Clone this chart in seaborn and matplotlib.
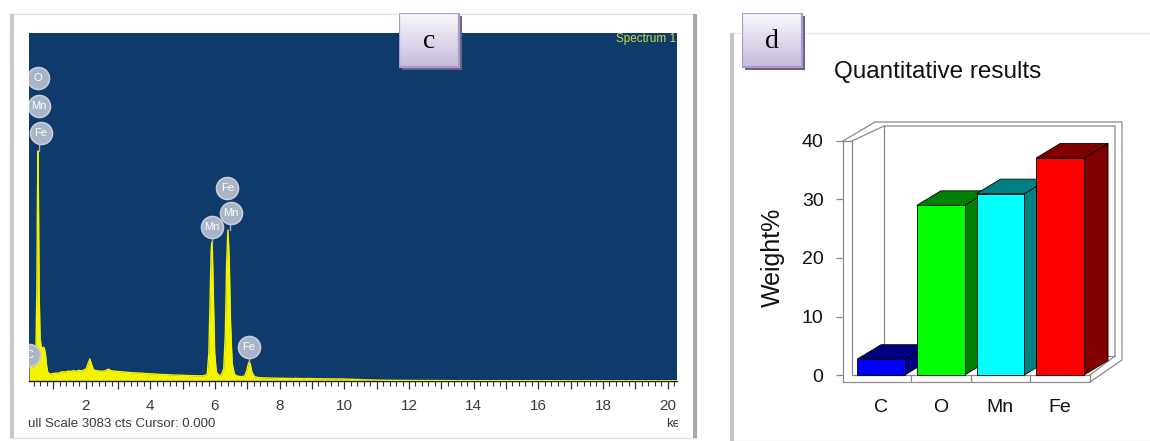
import numpy as np
import pandas as pd
import matplotlib
matplotlib.use("Agg")
import matplotlib.pyplot as plt
import seaborn as sns
from matplotlib import font_manager
from matplotlib.patches import Rectangle, Polygon
from matplotlib.lines import Line2D
from matplotlib.transforms import Bbox, TransformedBbox
from matplotlib.ticker import MultipleLocator, FuncFormatter

# ---------------- data ----------------
# EDS spectrum: energy (keV) and counts
energy_kev = [0.25, 0.28, 0.31, 0.36, 0.42, 0.46, 0.49, 0.51, 0.525, 0.54, 0.56, 0.59,
              0.63, 0.67, 0.70, 0.73, 0.76, 0.79, 0.82, 0.86, 0.92, 1.00, 1.08, 1.15,
              1.22, 1.30, 1.38, 1.46, 1.54, 1.62, 1.70, 1.78, 1.86, 1.94, 2.02, 2.08,
              2.13, 2.18, 2.24, 2.32, 2.42, 2.52, 2.62, 2.70, 2.78, 2.88, 2.98, 3.10,
              3.25, 3.40, 3.55, 3.70, 3.85, 4.00, 4.15, 4.30, 4.45, 4.60, 4.75, 4.90,
              5.05, 5.20, 5.35, 5.50, 5.65, 5.76, 5.81, 5.85, 5.88, 5.90, 5.92, 5.95,
              5.99, 6.04, 6.12, 6.20, 6.27, 6.32, 6.36, 6.40, 6.44, 6.48, 6.53, 6.60,
              6.70, 6.82, 6.92, 6.98, 7.03, 7.06, 7.09, 7.14, 7.22, 7.35, 7.50, 7.70,
              7.90, 8.10, 8.30, 8.50, 8.70, 8.90, 9.10, 9.40, 9.70, 10.00, 10.30, 10.70,
              11.20, 12.00, 13.00, 14.00, 16.00, 18.00, 20.29]
counts = [150, 175, 150, 120, 140, 260, 800, 1650, 2038, 1600, 800, 380,
          300, 290, 300, 280, 230, 140, 85, 66, 62, 66, 70, 68,
          78, 82, 80, 88, 85, 92, 86, 94, 90, 96, 110, 160,
          195, 150, 100, 92, 88, 86, 92, 105, 92, 88, 84, 82,
          78, 74, 72, 70, 66, 64, 62, 58, 57, 55, 52, 52,
          50, 48, 47, 46, 46, 60, 250, 750, 1150, 1231, 1150, 750,
          250, 80, 50, 55, 110, 420, 1050, 1338, 1080, 520, 160, 60,
          42, 38, 45, 90, 150, 170, 150, 80, 38, 30, 28, 26,
          25, 24, 22, 23, 21, 22, 20, 19, 18, 18, 14, 10,
          7, 5, 4, 3, 3, 2, 2]
full_scale_cts = 3083

# peak identification markers
peak_labels = ["C", "O", "Mn", "Fe", "Mn", "Mn", "Fe", "Fe"]
peak_label_kev = [0.25, 0.53, 0.56, 0.61, 5.90, 6.49, 6.38, 7.05]
peak_label_cts = [230, 2684, 2436, 2197, 1364, 1488, 1710, 301]
# connector lines from marker down to the peak top
connector_kev = [0.55, 5.90, 6.45, 7.06]
connector_top = [2110, 1280, 1400, 215]
connector_bottom = [2038, 1231, 1338, 170]

# quantitative results
elements = ["C", "O", "Mn", "Fe"]
weight_pct = [2.7, 29.0, 31.0, 37.1]
front_colors = ["#0000ff", "#00ff00", "#00ffff", "#ff0000"]
side_colors = ["#000080", "#008000", "#008080", "#800000"]
yticks_pct = [0, 10, 20, 30, 40]

# ---------------- style ----------------
sns.set_style("white")
names = {f.name for f in font_manager.fontManager.ttflist}
NARROW = "Liberation Sans Narrow" if "Liberation Sans Narrow" in names else "Liberation Sans"
SANS = "Liberation Sans"
SERIF = "Liberation Serif"
plt.rcParams["font.family"] = [SANS, "DejaVu Sans"]

W, H = 1150, 441
fig = plt.figure(figsize=(W / 100, H / 100), dpi=100)
fig.patch.set_facecolor("white")


def fx(px):
    return px / W


def fy(py):
    return 1 - py / H


# ---------------- panel frames ----------------
fig.patches.append(Rectangle((fx(10), fy(438)), fx(686), (438 - 14) / H, transform=fig.transFigure,
                             facecolor="white", edgecolor="#e2e2e2", lw=1.0, zorder=-5))
fig.patches.append(Rectangle((fx(10), fy(438)), fx(4), (438 - 14) / H, transform=fig.transFigure,
                             facecolor="#c9c9c9", edgecolor="none", zorder=-4))
fig.patches.append(Rectangle((fx(693), fy(438)), fx(4), (438 - 14) / H, transform=fig.transFigure,
                             facecolor="#a9a9a9", edgecolor="none", zorder=-4))
fig.patches.append(Rectangle((fx(730), 0), fx(430), (441 - 33) / H, transform=fig.transFigure,
                             facecolor="white", edgecolor="#e6e6e6", lw=1.0, zorder=-5))
fig.patches.append(Rectangle((fx(730), 0), fx(4), (441 - 33) / H, transform=fig.transFigure,
                             facecolor="#c4c4c4", edgecolor="none", zorder=-4))

# ---------------- EDS spectrum ----------------
ax1 = fig.add_axes([fx(29), fy(381), fx(648), 348 / H], zorder=1)
ax1.set_facecolor("#0e3a6c")
yellow = "#f4f400"
ax1.fill_between(energy_kev, counts, 0, color=yellow, lw=0, zorder=2)
sns.lineplot(x=energy_kev, y=counts, ax=ax1, color=yellow, lw=1.0, zorder=3, estimator=None)
ax1.set_xlim(0.247, 20.29)
ax1.set_ylim(0, full_scale_cts)
for s in ["top", "left", "right"]:
    ax1.spines[s].set_visible(False)
ax1.spines["bottom"].set_color("#1a1a1a")
ax1.spines["bottom"].set_linewidth(1.0)
ax1.yaxis.set_visible(False)
ax1.xaxis.set_major_locator(MultipleLocator(1))
ax1.xaxis.set_minor_locator(MultipleLocator(0.2))
ax1.xaxis.set_major_formatter(FuncFormatter(lambda v, p: f"{int(round(v))}" if round(v) % 2 == 0 and v > 0.5 else ""))
ax1.tick_params(axis="x", which="major", length=6, width=0.9, color="#333333", pad=7,
                labelsize=11, labelcolor="#3a3a3a", bottom=True)
ax1.tick_params(axis="x", which="minor", length=3.5, width=0.8, color="#333333", bottom=True)
for lab in ax1.get_xticklabels():
    lab.set_family([NARROW, "DejaVu Sans"])
ax1.set_xlabel("")

# connectors and element markers
for k, t, b in zip(connector_kev, connector_top, connector_bottom):
    ax1.plot([k, k], [b, t], color="#9fb0c8", lw=1.0, zorder=4)
ax1.scatter(peak_label_kev, peak_label_cts, s=250, color="#a9b4c6", edgecolor="#c6cdd9",
            lw=1.2, zorder=5, clip_on=True)
for lab, k, c in zip(peak_labels, peak_label_kev, peak_label_cts):
    ax1.text(k, c, lab, ha="center", va="center", color="white", fontsize=8,
             family=[NARROW, "DejaVu Sans"], zorder=6, clip_on=True)

ax1.text(0.999, 1.0, "Spectrum 1", transform=ax1.transAxes, ha="right", va="top",
         color="#c8dc3c", fontsize=8.5, family=[NARROW, "DejaVu Sans"], zorder=6, clip_on=True)

# status line under the spectrum (cut by the window edge)
clip_box = TransformedBbox(Bbox.from_extents(fx(28), fy(428), fx(678), fy(410)), fig.transFigure)
t1 = fig.text(fx(28), fy(418), "ull Scale 3083 cts Cursor: 0.000", ha="left", va="top",
              fontsize=9.5, color="#3a3a3a", family=[NARROW, "DejaVu Sans"])
t1.set_clip_box(clip_box)
t1.set_clip_on(True)
t2 = fig.text(fx(666), fy(418), "keV", ha="left", va="top",
              fontsize=9.5, color="#3a3a3a", family=[NARROW, "DejaVu Sans"])
t2.set_clip_box(clip_box)
t2.set_clip_on(True)


# ---------------- panel label boxes ----------------
def label_box(x0, y0, w, h, letter):
    bx = fig.add_axes([fx(x0), fy(y0 + h + 4), fx(w + 4), (h + 4) / H], zorder=10)
    bx.axis("off")
    bx.add_patch(Rectangle((3, 3), w, h, facecolor="#6c5e8c", edgecolor="none", zorder=1))
    grad = np.linspace(0, 1, 64).reshape(-1, 1)
    cmap = matplotlib.colors.LinearSegmentedColormap.from_list("lav", ["#faf9fc", "#c6bbdc"])
    bx.imshow(grad, cmap=cmap, extent=(0, w, h, 0), aspect="auto", zorder=2)
    bx.add_patch(Rectangle((0, 0), w, h, facecolor="none", edgecolor="#ab9bc9", lw=1.6, zorder=3))
    bx.text(w / 2, h / 2 + 1, letter, ha="center", va="center", fontsize=20,
            family=[SERIF, "DejaVu Serif"], color="black", zorder=4)
    bx.set_xlim(0, w + 4)
    bx.set_ylim(h + 4, 0)


label_box(399, 13, 60, 54, "c")
label_box(742, 13, 60, 54, "d")

# ---------------- quantitative bar chart ----------------
ax2 = fig.add_axes([fx(843), fy(375), fx(1090 - 843), (375 - 141) / H], zorder=2)
ax2.set_facecolor("none")
df = pd.DataFrame({"element": elements, "weight": weight_pct})
sns.barplot(data=df, x="element", y="weight", hue="element", palette=front_colors,
            saturation=1, width=0.8, legend=False, ax=ax2, edgecolor="black", linewidth=0.6)
xa, xr = -0.636, 3.5
ax2.set_xlim(xa, xr)
ax2.set_ylim(0, 40)
ux = (1090 - 843) / (xr - xa)      # px per category unit
uy = (375 - 141) / 40.0            # px per weight %

# bar depth faces
bdx, bdy = 24 / ux, 14.5 / uy
for i, bar in enumerate(ax2.patches[:len(elements)]):
    x0 = bar.get_x()
    x1 = x0 + bar.get_width()
    v = bar.get_height()
    bar.set_zorder(5 + 2 * i)
    bar.set_clip_on(False)
    side = Polygon([(x1, 0), (x1 + bdx, bdy), (x1 + bdx, v + bdy), (x1, v)], closed=True,
                   facecolor=side_colors[i], edgecolor="black", lw=0.6, zorder=4 + 2 * i,
                   clip_on=False)
    top = Polygon([(x0, v), (x1, v), (x1 + bdx, v + bdy), (x0 + bdx, v + bdy)], closed=True,
                  facecolor=side_colors[i], edgecolor="black", lw=0.6, zorder=4 + 2 * i,
                  clip_on=False)
    ax2.add_patch(side)
    ax2.add_patch(top)

# box frame (left wall, floor, back wall)
wt, ft = 9 / ux, 7 / uy
DX, DY = 32 / ux, 19 / uy
xi = xa + wt
top_in = 40 + DY - 4 / uy
xbo = xr + DX
xbi = xr + DX - 7 / ux
gray = "#8a8a8a"
frame = [
    [(xa, -ft), (xa, 40), (xi, 40), (xi, 0), (xr, 0), (xr, -ft), (xa, -ft)],
    [(xa, 40), (xa + DX, 40 + DY), (xbo, 40 + DY), (xbo, -ft + DY + 3 / uy), (xr, -ft)],
    [(xi, 40), (xi + DX, top_in), (xbi, top_in), (xbi, DY), (xr, 0)],
    [(xi + DX, top_in), (xi + DX, DY), (xbi, DY)],
]
for pts in frame:
    xs, ys = zip(*pts)
    ax2.add_line(Line2D(xs, ys, color=gray, lw=0.9, zorder=1, clip_on=False))
for k in [0.5, 1.5, 2.5]:
    ax2.add_line(Line2D([k, k], [-ft, 0], color=gray, lw=0.9, zorder=1, clip_on=False))

for s in ax2.spines.values():
    s.set_visible(False)
ax2.set_yticks(yticks_pct)
ax2.tick_params(axis="y", left=True, length=5, width=0.9, color=gray, pad=9,
                labelsize=14, labelcolor="#111111", direction="out")
ax2.tick_params(axis="x", length=0, pad=17, labelsize=14, labelcolor="#111111")
ax2.set_xlabel("")
ax2.set_ylabel("")
fig.text(fx(773), fy(257), "Weight%", rotation=90, ha="center", va="center", fontsize=18,
         color="#111111")
fig.text(fx(834), fy(72), "Quantitative results", ha="left", va="center", fontsize=17.5,
         color="#111111")

fig.savefig("out.png", dpi=100)
